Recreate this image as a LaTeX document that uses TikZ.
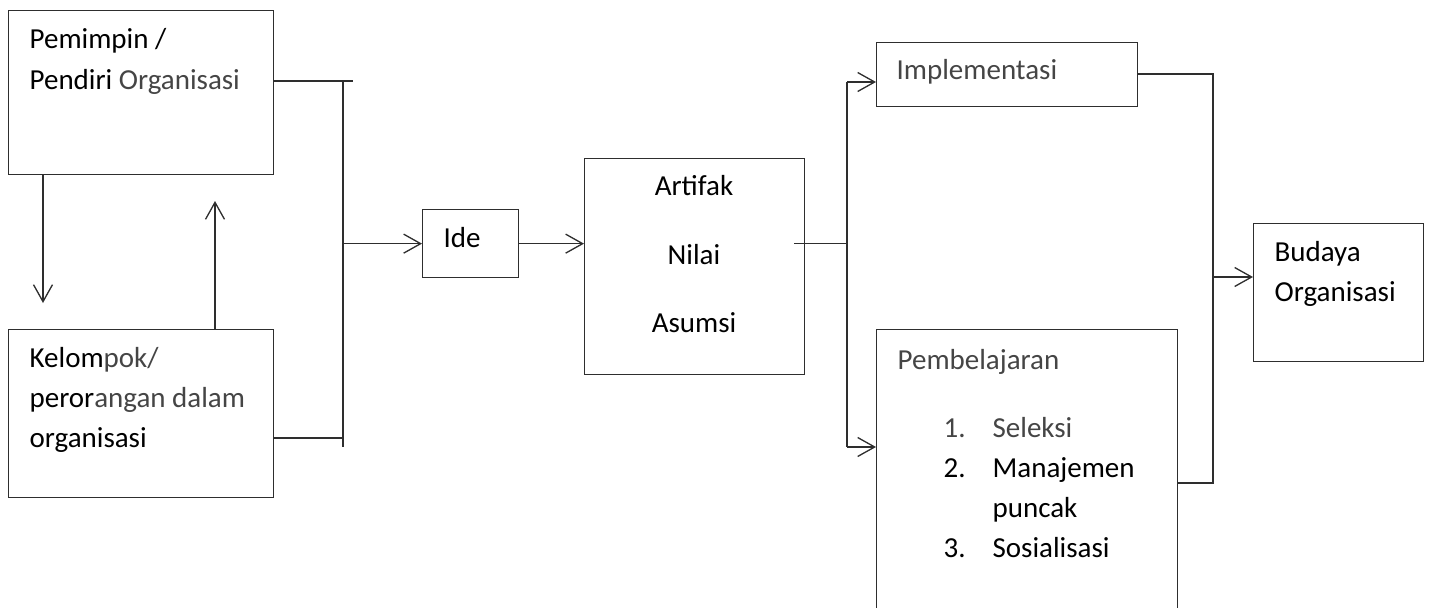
\documentclass[tikz,border=0pt]{standalone}
\usepackage{fontspec}
\setmainfont{Carlito}
\usepackage{xcolor}
\usetikzlibrary{arrows.meta}
\definecolor{linegray}{gray}{0.18}
\definecolor{textgray}{gray}{0.27}
\newcommand{\gr}[1]{\textcolor{textgray}{#1}}

\begin{document}
\begin{tikzpicture}[x=0.02cm,y=-0.02cm,>={Straight Barb[length=0.34cm,width=0.38cm]},
	line width=0.75pt,
	garis/.style={draw=linegray},
	panah/.style={garis,->},
	kotak/.style={draw=linegray,rectangle,inner sep=0pt,anchor=north west},
	teks/.style={inner sep=0pt,anchor=base west,font=\fontsize{16.5}{22.8}\selectfont}]

	\useasboundingbox (0,0) rectangle (1430,608);

	% kotak
	\node[kotak,minimum width=5.30cm,minimum height=3.28cm] (pemimpin) at (8,10) {};
	\node[kotak,minimum width=5.30cm,minimum height=3.36cm] (kelompok) at (8,329) {};
	\node[kotak,minimum width=1.92cm,minimum height=1.36cm] (ide) at (422,209) {};
	\node[kotak,minimum width=4.40cm,minimum height=4.32cm] (inti) at (584,158) {};
	\node[kotak,minimum width=5.22cm,minimum height=1.28cm] (implementasi) at (876,42) {};
	\node[kotak,minimum width=6.02cm,minimum height=6.22cm] (pembelajaran) at (876,329) {};
	\node[kotak,minimum width=3.40cm,minimum height=2.76cm] (budaya) at (1253,223) {};

	% teks
	\node[teks] (tPemimpin) at (29,49) {\begin{tabular}[t]{@{}l@{}}Pemimpin /\\Pendiri \gr{Organisasi}\end{tabular}};
	\node[teks] (tKelompok) at (29,367) {\begin{tabular}[t]{@{}l@{}}Kelom\gr{pok/}\\peror\gr{angan dalam}\\organisasi\end{tabular}};
	\node[teks] (tIde) at (443,247) {Ide};
	\node[teks,anchor=base] (tArtifak) at (694,195) {Artifak};
	\node[teks,anchor=base] (tNilai) at (694,264) {Nilai};
	\node[teks,anchor=base] (tAsumsi) at (694,332) {Asumsi};
	\node[teks] (tImplementasi) at (896,80) {\gr{Implementasi}};
	\node[teks] (tBudaya) at (1274,261) {\begin{tabular}[t]{@{}l@{}}Budaya\\Organisasi\end{tabular}};
	\node[teks] (tPembelajaran) at (897,369) {\gr{Pembelajaran}};
	\node[teks] (tDaftar) at (943,437) {\begin{tabular}[t]{@{}p{0.98cm}@{}l@{}}\gr{1.}&\gr{Seleksi}\\2.&Manajemen\\&puncak\\3.&Sosialisasi\end{tabular}};

	% titik bantu
	\coordinate (turun) at (43,303);
	\coordinate (naik) at (215,201);
	\coordinate (busA) at (343,81);
	\coordinate (busAbawah) at (343,447);
	\coordinate (busAkelompok) at (343,438);
	\coordinate (busB) at (847,82);
	\coordinate (busBbawah) at (847,447);
	\coordinate (busC) at (1213,74);
	\coordinate (busCbawah) at (1213,483);
	\coordinate (keBudaya) at (1213,277);

	% garis kiri
	\draw[panah] (pemimpin.south -| turun) -- (turun);
	\draw[panah] (kelompok.north -| naik) -- (naik);
	\draw[garis] (pemimpin.east |- busA) -- (busA) -- ++(10,0);
	\draw[garis] (busA) -- (busAbawah);
	\draw[garis] (kelompok.east |- busAkelompok) -- (busAkelompok);
	\draw[panah] (busA |- ide.west) -- (ide.west);
	\draw[panah] (ide.east) -- (ide.east -| inti.west);

	% garis tengah
	\draw[garis] (inti.east |- ide.east) ++(-11,0) -- (busB |- ide.east);
	\draw[garis] (busB) -- (busBbawah);
	\draw[panah] (busB) -- (busB -| implementasi.west);
	\draw[panah] (busBbawah) -- (busBbawah -| pembelajaran.west);

	% garis kanan
	\draw[garis] (implementasi.east |- busC) -- (busC) -- (busCbawah) -- (busCbawah -| pembelajaran.east);
	\draw[panah] (keBudaya) -- (keBudaya -| budaya.west);
\end{tikzpicture}
\end{document}
